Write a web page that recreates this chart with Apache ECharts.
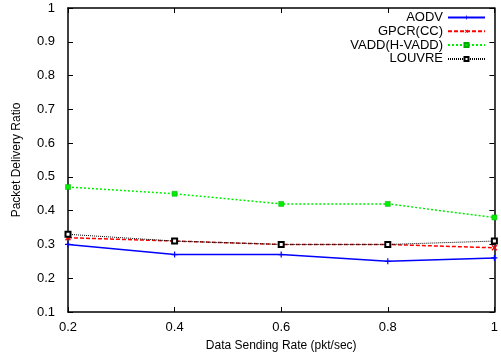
<!DOCTYPE html>
<html><head><meta charset="utf-8">
<script src="https://cdn.jsdelivr.net/npm/echarts@6/dist/echarts.min.js"></script>
<style>html,body{margin:0;padding:0;background:#fff}#c{width:501px;height:357px}</style>
</head><body><div id="c"></div>
<script>
var xValues = [0.2, 0.4, 0.6, 0.8, 1.0];
var seriesNames = ['AODV', 'GPCR(CC)', 'VADD(H-VADD)', 'LOUVRE'];
var aodv = [0.30, 0.27, 0.27, 0.25, 0.26];
var gpcr = [0.32, 0.31, 0.30, 0.30, 0.29];
var vadd = [0.47, 0.45, 0.42, 0.42, 0.38];
var louvre = [0.33, 0.31, 0.30, 0.30, 0.31];
var xTitle = 'Data Sending Rate (pkt/sec)';
var yTitle = 'Packet Delivery Ratio';

function pairs(v){ return xValues.map(function(x,i){ return [x, v[i]]; }); }
var plusPath = 'path://M4,0h2v4h4v2h-4v4h-2v-4h-4v-2h4z';
var font = 'Liberation Sans, Arial, sans-serif';
var chart = echarts.init(document.getElementById('c'), null, {renderer:'canvas'});
var tickStyle = {show:true, inside:true, length:5, lineStyle:{color:'#000', width:1}};
chart.setOption({
  animation:false,
  backgroundColor:'#fff',
  textStyle:{fontFamily:font},
  grid:{left:68, right:1, top:8, bottom:44, show:false},
  legend:{
    data:seriesNames, orient:'vertical', align:'right', right:15, top:11,
    itemWidth:37, itemHeight:5, itemGap:0.8,
    textStyle:{fontFamily:font, fontSize:13, color:'#000'},
    padding:0
  },
  xAxis:[{
    type:'value', min:0.2, max:1, interval:0.2, position:'bottom',
    axisLine:{show:true, onZero:false, lineStyle:{color:'#000', width:1.5}},
    axisTick:tickStyle, splitLine:{show:false},
    axisLabel:{fontFamily:font, fontSize:13, color:'#000', margin:9, formatter:function(v){return String(+v.toFixed(1));}},
    name:xTitle, nameLocation:'middle', nameGap:28,
    nameTextStyle:{fontFamily:font, fontSize:12, color:'#000'}
  },{
    type:'value', min:0.2, max:1, interval:0.2, position:'top',
    axisLine:{show:true, onZero:false, lineStyle:{color:'#000', width:1.5}},
    axisTick:tickStyle, axisLabel:{show:false}, splitLine:{show:false}
  }],
  yAxis:[{
    type:'value', min:0.1, max:1, interval:0.1, position:'left',
    axisLine:{show:true, onZero:false, lineStyle:{color:'#000', width:1.5}},
    axisTick:tickStyle, splitLine:{show:false},
    axisLabel:{fontFamily:font, fontSize:13, color:'#000', margin:13, formatter:function(v){return String(+v.toFixed(1));}},
    name:yTitle, nameLocation:'middle', nameGap:45,
    nameTextStyle:{fontFamily:font, fontSize:12, color:'#000'}
  },{
    type:'value', min:0.1, max:1, interval:0.1, position:'right',
    axisLine:{show:true, onZero:false, lineStyle:{color:'#000', width:1.5}},
    axisTick:tickStyle, axisLabel:{show:false}, splitLine:{show:false}
  }],
  series:[
    {name:seriesNames[0], type:'line', data:pairs(aodv), symbol:plusPath, symbolSize:6,
     lineStyle:{color:'#0000ff', width:1.5, type:'solid'}, itemStyle:{color:'#0000ff'}},
    {name:seriesNames[1], type:'line', data:pairs(gpcr), symbol:plusPath, symbolSize:7, symbolRotate:45,
     lineStyle:{color:'#ff0000', width:1.5, type:[4,2]}, itemStyle:{color:'#ff0000'}},
    {name:seriesNames[2], type:'line', data:pairs(vadd), symbol:'rect', symbolSize:5,
     lineStyle:{color:'#00ee00', width:1.5, type:[2,2]}, itemStyle:{color:'#00ee00', borderColor:'#00aa00', borderWidth:0.5}},
    {name:seriesNames[3], type:'line', data:pairs(louvre), symbol:'emptyRect', symbolSize:5,
     lineStyle:{color:'#000', width:1, type:[1,1]}, itemStyle:{color:'#000', borderColor:'#000', borderWidth:1.5}}
  ]
});
</script></body></html>
